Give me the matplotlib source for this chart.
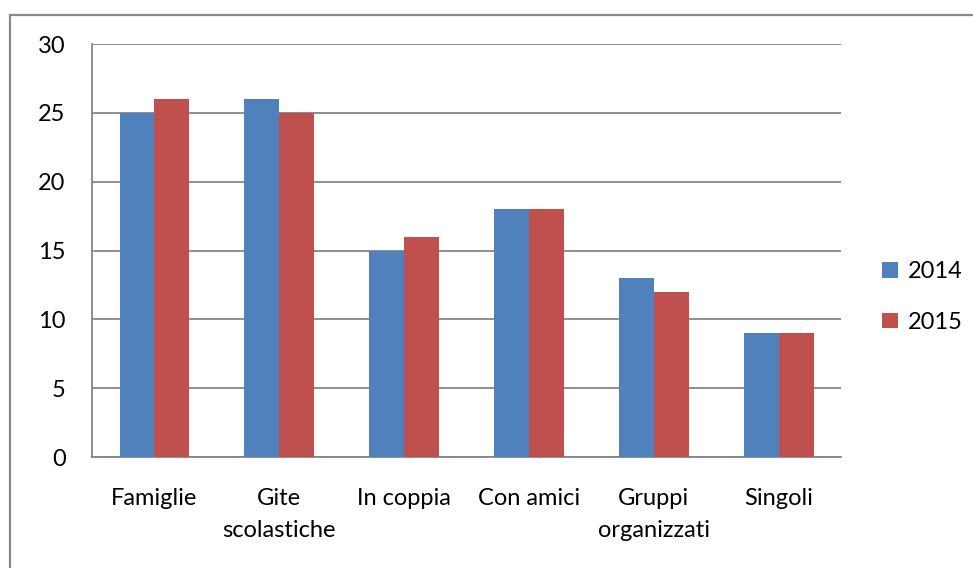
import numpy as np
import matplotlib.pyplot as plt
from matplotlib.patches import Rectangle

categories = ["Famiglie", "Gite\nscolastiche", "In coppia", "Con amici", "Gruppi\norganizzati", "Singoli"]
values_2014 = [25, 26, 15, 18, 13, 9]
values_2015 = [26, 25, 16, 18, 12, 9]
series_labels = ["2014", "2015"]
yticks = [0, 5, 10, 15, 20, 25, 30]

plt.rcParams['font.family'] = ['Lato', 'DejaVu Sans']

fig = plt.figure(figsize=(9.73, 5.68), dpi=100)
ax = fig.add_axes([0.0946, 0.1954, 0.7698, 0.7271])

# outer chart frame
fig.add_artist(Rectangle((10 / 973, -0.05), 1.2, 1 - 15 / 568 + 0.05, transform=fig.transFigure,
                         fill=False, edgecolor="#898989", linewidth=1.6))

x = np.arange(len(categories))
w = 0.28
ax.bar(x - w / 2, values_2014, w, color="#4F81BD", label=series_labels[0], zorder=3)
ax.bar(x + w / 2, values_2015, w, color="#C0504D", label=series_labels[1], zorder=3)

ax.set_xlim(-0.5, len(categories) - 0.5)
ax.set_ylim(0, 30)
ax.set_yticks(yticks)
ax.yaxis.grid(True, color="#868686", linewidth=1.3, zorder=0)
ax.set_axisbelow(True)

for side in ["top", "right"]:
    ax.spines[side].set_visible(False)
for side in ["left", "bottom"]:
    ax.spines[side].set_color("#868686")
    ax.spines[side].set_linewidth(1.3)

ax.set_xticks(x)
ax.set_xticklabels(categories, fontsize=17, linespacing=1.65)
ax.tick_params(axis="x", length=0, pad=22)
ax.tick_params(axis="y", length=0, pad=19, labelsize=17)

ax.legend(loc="center left", bbox_to_anchor=(0.885, 0.477), bbox_transform=fig.transFigure,
          frameon=False, fontsize=17, handlelength=0.65, handleheight=0.65,
          handletextpad=0.45, labelspacing=1.25)

fig.savefig("out.png", dpi=100)
